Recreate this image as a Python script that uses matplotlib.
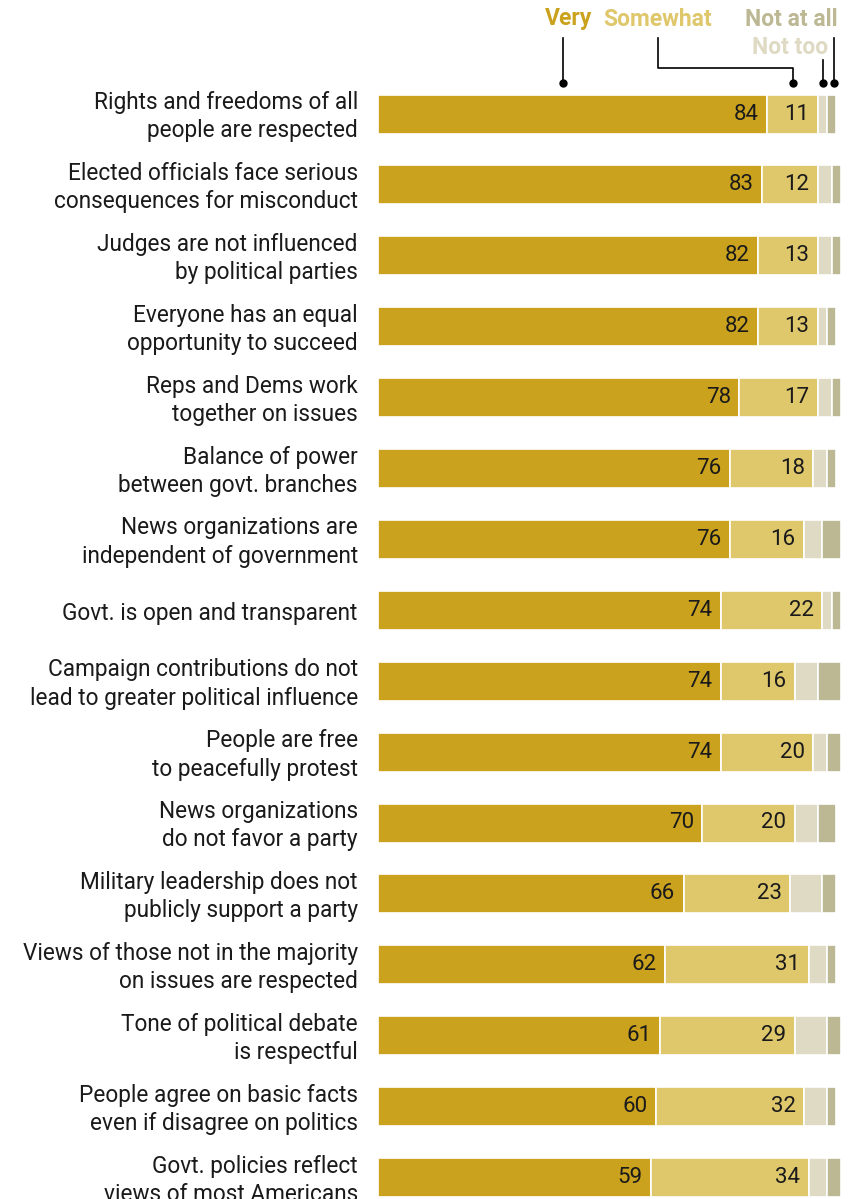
import numpy as np
import matplotlib
matplotlib.use("Agg")
import matplotlib.pyplot as plt
from matplotlib.lines import Line2D

plt.rcParams['font.family'] = ['Roboto', 'DejaVu Sans']

items = [
    "Rights and freedoms of all\npeople are respected",
    "Elected officials face serious\nconsequences for misconduct",
    "Judges are not influenced\nby political parties",
    "Everyone has an equal\nopportunity to succeed",
    "Reps and Dems work\ntogether on issues",
    "Balance of power\nbetween govt. branches",
    "News organizations are\nindependent of government",
    "Govt. is open and transparent",
    "Campaign contributions do not\nlead to greater political influence",
    "People are free\nto peacefully protest",
    "News organizations\ndo not favor a party",
    "Military leadership does not\npublicly support a party",
    "Views of those not in the majority\non issues are respected",
    "Tone of political debate\nis respectful",
    "People agree on basic facts\neven if disagree on politics",
    "Govt. policies reflect\nviews of most Americans",
]
very = [84, 83, 82, 82, 78, 76, 76, 74, 74, 74, 70, 66, 62, 61, 60, 59]
somewhat = [11, 12, 13, 13, 17, 18, 16, 22, 16, 20, 20, 23, 31, 29, 32, 34]
not_too = [2, 3, 3, 2, 3, 3, 4, 2, 5, 3, 5, 7, 4, 7, 5, 4]
not_at_all = [2, 2, 2, 2, 2, 2, 4, 2, 5, 3, 4, 3, 2, 3, 2, 3]

c_very = '#cba21e'
c_some = '#dfc76c'
c_nottoo = '#dedac4'
c_notall = '#bdb894'
c_text = '#1a1a1a'

W, H = 849, 1199
fig = plt.figure(figsize=(W / 100, H / 100), dpi=100)

# rows are laid out ~71px apart, first bar centred at y=114px
row0, step = 114, 70.9
ax = fig.add_axes([378 / W, 0, 463 / W, 1])
ax.set_xlim(0, 100)
ax.set_ylim((H - row0) / step, -row0 / step)
ax.axis('off')

y = np.arange(len(items))
h = 39 / step
segs = [very, somewhat, not_too, not_at_all]
cols = [c_very, c_some, c_nottoo, c_notall]
left = np.zeros(len(items))
for vals, col in zip(segs, cols):
    vals = np.array(vals, dtype=float)
    ax.barh(y, vals, left=left, height=h, color=col, edgecolor='white', linewidth=1.2)
    left += vals

for i in range(len(items)):
    ax.annotate(str(very[i]), (very[i], i), xytext=(-6, 0), textcoords='offset points',
                ha='right', va='center', fontsize=16, color=c_text)
    ax.annotate(str(somewhat[i]), (very[i] + somewhat[i], i), xytext=(-6, 0),
                textcoords='offset points', ha='right', va='center', fontsize=16, color=c_text)
    ax.annotate(items[i], (0, i), xytext=(-14.5, -2), textcoords='offset points',
                ha='right', va='center', multialignment='right', fontsize=16.3,
                color=c_text, linespacing=1.3, annotation_clip=False)


# legend header with leader lines, drawn in pixel coordinates
def fx(px):
    return px / W


def fy(py):
    return 1 - py / H


def leader(xs, ys):
    fig.add_artist(Line2D([fx(v) for v in xs], [fy(v) for v in ys], color='black', lw=1.2))
    fig.add_artist(Line2D([fx(xs[-1])], [fy(ys[-1])], marker='o', markersize=5,
                          color='black', lw=0))


leader([563, 563], [38, 83])
leader([658, 658, 793, 793], [38, 68, 68, 83])
leader([823, 823], [60, 83])
leader([834, 834], [38, 83])

fig.text(fx(545), fy(19), "Very", color=c_very, fontsize=16.5, fontweight='bold', va='center', ha='left')
fig.text(fx(603), fy(19), "Somewhat", color=c_some, fontsize=16.5, fontweight='bold', va='center', ha='left')
fig.text(fx(838), fy(19), "Not at all", color=c_notall, fontsize=16.5, fontweight='bold', va='center', ha='right')
fig.text(fx(828), fy(47), "Not too", color=c_nottoo, fontsize=16.5, fontweight='bold', va='center', ha='right')

fig.savefig("out.png", dpi=100)
